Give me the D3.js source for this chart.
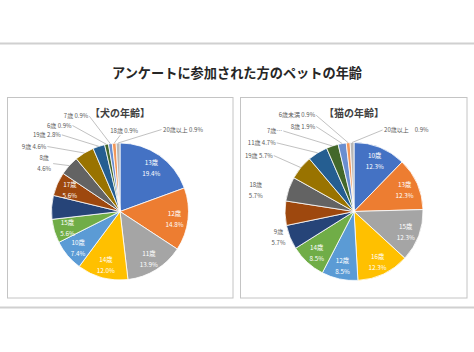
<!DOCTYPE html>
<html>
<head>
<meta charset="utf-8">
<script src="https://cdn.jsdelivr.net/npm/d3@7.9.0/dist/d3.min.js"></script>
<style>
  body { margin: 0; background: #fff; }
  svg { display: block; font-family: "Noto Sans CJK JP", "Noto Sans", sans-serif; }
</style>
</head>
<body>
<svg id="chart" width="474" height="352"></svg>
<script>
// data (share of answers, %)
const dogAges = ['13歳', '12歳', '11歳', '14歳', '10歳', '15歳', '16歳', '17歳', '8歳', '9歳', '19歳', '6歳', '7歳', '18歳', '20歳以上'];
const dogShares = [19.4, 14.8, 13.9, 12.0, 7.4, 5.6, 5.6, 5.6, 4.6, 4.6, 2.8, 0.9, 0.9, 0.9, 0.9];
const catAges = ['10歳', '13歳', '15歳', '16歳', '12歳', '14歳', '9歳', '17歳', '18歳', '19歳', '11歳', '7歳…', '8歳', '6歳未満', '20歳以上'];
const catShares = [12.3, 12.3, 12.3, 12.3, 8.5, 8.5, 5.7, 5.7, 5.7, 5.7, 4.7, 2.8, 1.9, 0.9, 0.9];

// excel office palette
const palette = ['#4472C4', '#ED7D31', '#A5A5A5', '#FFC000', '#5B9BD5', '#70AD47', '#264478', '#9E480E',
  '#636363', '#997300', '#255E91', '#43682B', '#698ED0', '#F1975A', '#B7B7B7'];

// where the outside labels sit, relative to the slice edge
const dogOutside = {
  '8歳': { dx: -25, dy: -3, anchor: 'middle', two: true, leader: true },
  '9歳': { dx: -38, dy: -6.5, anchor: 'end', leader: true },
  '19歳': { dx: -38, dy: -11.5, anchor: 'end', leader: true },
  '6歳': { dx: -35, dy: -18.8, anchor: 'end', leader: true },
  '7歳': { dx: -22, dy: -27.5, anchor: 'end', leader: true },
  '18歳': { dx: 10, dy: -12, anchor: 'middle', leader: true },
  '20歳以上': { dx: 45, dy: -13.5, anchor: 'start', leader: true }
};
const catOutside = {
  '9歳': { dx: -11.5, dy: 0, anchor: 'middle', two: true },
  '18歳': { dx: -33, dy: 0.5, anchor: 'middle', two: true },
  '19歳': { dx: -28, dy: -12, anchor: 'end', leader: true },
  '11歳': { dx: -42, dy: -10, anchor: 'end', leader: true },
  '7歳…': { dx: -50, dy: -15, anchor: 'end', leader: true, noValue: true },
  '8歳': { dx: -27, dy: -17, anchor: 'end', leader: true },
  '6歳未満': { dx: -33, dy: -27.5, anchor: 'end', leader: true },
  '20歳以上': { dx: 32, dy: -12.5, anchor: 'start', leader: true, gap: '\u3000' }
};
const dogHidden = ['16歳'];
const catHidden = ['17歳'];

const svg = d3.select('#chart');

// rules and title
svg.append('line').attr('x1', 0).attr('x2', 474).attr('y1', 43.5).attr('y2', 43.5)
  .attr('stroke', '#d0d0d0').attr('stroke-width', 2);
svg.append('line').attr('x1', 0).attr('x2', 474).attr('y1', 307.5).attr('y2', 307.5)
  .attr('stroke', '#d0d0d0').attr('stroke-width', 2);
svg.append('text').attr('x', 237).attr('y', 77.5).attr('text-anchor', 'middle')
  .attr('font-size', 13.2).attr('font-weight', 'bold').attr('fill', '#262626')
  .text('アンケートに参加された方のペットの年齢');

function drawPie(opts) {
  const { ages, shares, box, cx, cy, r, title, outside, hidden } = opts;
  const g = svg.append('g');

  g.append('rect').attr('x', box[0]).attr('y', box[1]).attr('width', box[2]).attr('height', box[3])
    .attr('fill', '#fff').attr('stroke', '#c4c4c4').attr('stroke-width', 1);

  g.append('text').attr('x', cx).attr('y', 117).attr('text-anchor', 'middle')
    .attr('font-size', 10).attr('font-weight', 'bold').attr('fill', '#404040').text(title);

  const data = ages.map((a, i) => ({ age: a, value: shares[i] }));
  const pie = d3.pie().sort(null).value(d => d.value);
  const arc = d3.arc().innerRadius(0).outerRadius(r);
  const labelArc = d3.arc().innerRadius(r * 0.8).outerRadius(r * 0.8);
  const color = d3.scaleOrdinal().domain(ages).range(palette);
  const arcs = pie(data);

  const pg = g.append('g').attr('transform', `translate(${cx},${cy})`);
  pg.selectAll('path').data(arcs).join('path')
    .attr('d', arc).attr('fill', d => color(d.data.age))
    .attr('stroke', '#fff').attr('stroke-width', 0.8);

  const fmt = d3.format('.1f');
  arcs.forEach(d => {
    const age = d.data.age;
    if (hidden.includes(age)) return;
    const o = outside[age];
    if (!o) {
      const [x, y] = labelArc.centroid(d);
      const t = pg.append('text').attr('text-anchor', 'middle').attr('font-size', 6.3).attr('fill', '#fff');
      t.append('tspan').attr('x', x).attr('y', y - 2).text(age);
      t.append('tspan').attr('x', x).attr('y', y + 9).text(fmt(d.data.value) + '%');
      return;
    }
    const mid = (d.startAngle + d.endAngle) / 2;
    const ex = Math.sin(mid) * r, ey = -Math.cos(mid) * r;
    const lx = ex + o.dx, ly = ey + o.dy;
    const t = pg.append('text').attr('text-anchor', o.anchor).attr('font-size', 6).attr('fill', '#595959');
    if (o.two) {
      t.append('tspan').attr('x', lx).attr('y', ly - 3).text(age);
      t.append('tspan').attr('x', lx).attr('y', ly + 8).text(fmt(d.data.value) + '%');
    } else {
      t.attr('x', lx).attr('y', ly + 2.2)
        .text(o.noValue ? age : age + (o.gap || ' ') + fmt(d.data.value) + '%');
    }
    if (o.leader) {
      let sx = lx + (o.anchor === 'end' ? 1 : o.anchor === 'start' ? -1.5 : -4);
      let sy = o.anchor === 'middle' ? ly + (o.two ? 1 : 4) : ly;
      if (o.two) sx = lx + 9;
      pg.append('line').attr('x1', sx).attr('y1', sy).attr('x2', ex).attr('y2', ey)
        .attr('stroke', '#a6a6a6').attr('stroke-width', 0.7);
    }
  });
}

drawPie({ ages: dogAges, shares: dogShares, box: [7.5, 97.5, 225.5, 200.5], cx: 120, cy: 211.5, r: 68.5,
  title: '【犬の年齢】', outside: dogOutside, hidden: dogHidden });
drawPie({ ages: catAges, shares: catShares, box: [240.5, 97.5, 226.5, 200.5], cx: 354, cy: 211.5, r: 69,
  title: '【猫の年齢】', outside: catOutside, hidden: catHidden });
</script>
</body>
</html>
